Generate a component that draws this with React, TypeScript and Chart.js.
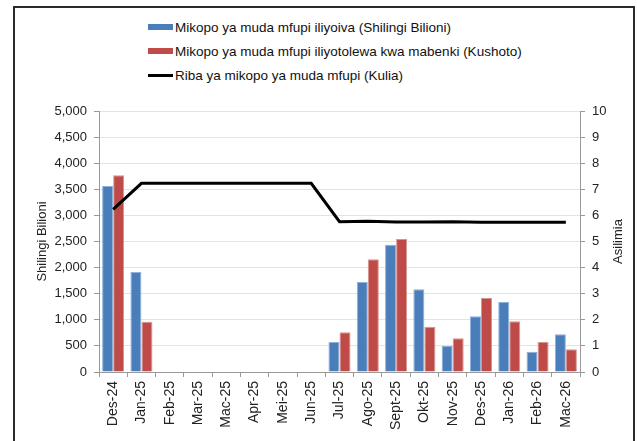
import React, { useEffect, useRef } from 'react';
import { Chart, registerables } from 'chart.js';

Chart.register(...registerables);

const categories = [
  'Des-24', 'Jan-25', 'Feb-25', 'Mar-25', 'Mac-25', 'Apr-25', 'Mei-25', 'Jun-25',
  'Jul-25', 'Ago-25', 'Sept-25', 'Okt-25', 'Nov-25', 'Des-25', 'Jan-26', 'Feb-26', 'Mac-26',
];

// Mikopo ya muda mfupi iliyoiva (Shilingi Bilioni)
const maturedLoans = [3563, 1916, null, null, null, null, null, null, 575, 1724, 2439, 1584, 504, 1067, 1341, 389, 722];
// Mikopo ya muda mfupi iliyotolewa kwa mabenki (Kushoto)
const issuedLoans = [3768, 964, null, null, null, null, null, null, 760, 2159, 2548, 868, 646, 1418, 971, 575, 435];
// Riba ya mikopo ya muda mfupi (Kulia)
const interestRate = [6.23, 7.23, 7.23, 7.23, 7.23, 7.23, 7.23, 7.23, 5.76, 5.78, 5.75, 5.75, 5.76, 5.74, 5.74, 5.74, 5.74];

const legendLabels = [
  'Mikopo ya muda mfupi iliyoiva (Shilingi Bilioni)',
  'Mikopo ya muda mfupi iliyotolewa kwa mabenki (Kushoto)',
  'Riba ya mikopo ya muda mfupi (Kulia)',
];
const leftTitle = 'Shilingi Bilioni';
const rightTitle = 'Asilimia';

const BLUE = '#4a7ebb';
const RED = '#be4b48';
const FONT = "'Liberation Sans', Arial, sans-serif";

const rightTitlePlugin = {
  id: 'rightTitle',
  afterDraw(chart: any) {
    const { ctx, chartArea } = chart;
    const s = chart.scales.y1;
    ctx.save();
    ctx.translate(s.right - 12, (chartArea.top + chartArea.bottom) / 2);
    ctx.rotate(-Math.PI / 2);
    ctx.font = `13px ${FONT}`;
    ctx.fillStyle = '#222';
    ctx.textAlign = 'center';
    ctx.textBaseline = 'middle';
    ctx.fillText(rightTitle, 0, 0);
    ctx.restore();
  },
};

export default function App() {
  const ref = useRef<HTMLCanvasElement | null>(null);

  useEffect(() => {
    if (!ref.current) return;
    const chart = new Chart(ref.current, {
      type: 'bar',
      data: {
        labels: categories,
        datasets: [
          {
            type: 'line',
            label: legendLabels[2],
            data: interestRate,
            yAxisID: 'y1',
            borderColor: '#000',
            borderWidth: 3,
            pointRadius: 0,
            tension: 0,
            order: 0,
          } as any,
          {
            label: legendLabels[0],
            data: maturedLoans,
            backgroundColor: BLUE,
            borderColor: '#8fb0d8',
            borderWidth: 1,
            yAxisID: 'y',
            order: 1,
            categoryPercentage: 0.78,
            barPercentage: 1,
          },
          {
            label: legendLabels[1],
            data: issuedLoans,
            backgroundColor: RED,
            borderColor: '#d99491',
            borderWidth: 1,
            yAxisID: 'y',
            order: 1,
            categoryPercentage: 0.78,
            barPercentage: 1,
          },
        ],
      },
      options: {
        responsive: false,
        animation: false,
        layout: { padding: { top: 111, left: 31, right: 7, bottom: 0 } },
        plugins: { legend: { display: false }, tooltip: { enabled: false } },
        scales: {
          x: {
            offset: true,
            grid: { offset: true, drawOnChartArea: false, drawTicks: true, tickLength: 5, tickColor: '#999' },
            border: { color: '#999' },
            ticks: {
              autoSkip: false,
              minRotation: 90,
              maxRotation: 90,
              padding: 4,
              color: '#222',
              font: { family: FONT, size: 14 },
            },
            afterFit: (s: any) => { s.height = 69; },
          },
          y: {
            position: 'left',
            min: 0,
            max: 5000,
            ticks: {
              stepSize: 500,
              padding: 7,
              color: '#222',
              font: { family: FONT, size: 13 },
              callback: (v: any) => Number(v).toLocaleString('en-US'),
            },
            grid: { color: '#e3e3e3', tickColor: '#999', tickLength: 5 },
            border: { color: '#999' },
            title: { display: true, text: leftTitle, color: '#222', font: { family: FONT, size: 13 } },
            afterFit: (s: any) => { s.width = 68; },
          },
          y1: {
            position: 'right',
            min: 0,
            max: 10,
            ticks: {
              stepSize: 1,
              padding: 7,
              color: '#222',
              font: { family: FONT, size: 13 },
            },
            grid: { drawOnChartArea: false, tickColor: '#999', tickLength: 5 },
            border: { color: '#999' },
            afterFit: (s: any) => { s.width = 50; },
          },
        },
      },
      plugins: [rightTitlePlugin],
    });
    return () => chart.destroy();
  }, []);

  const legendColors = [BLUE, RED, '#000'];
  return (
    <div style={{ position: 'absolute', left: 0, top: 0, width: 637, height: 441, overflow: 'hidden', background: '#fff' }}>
      <div
        style={{
          position: 'absolute', left: 13, top: 6, width: 622, height: 470,
          border: '2px solid #2a2a2a', boxSizing: 'border-box',
        }}
      />
      {legendLabels.map((t, i) => (
        <div
          key={t}
          style={{
            position: 'absolute', left: 148, top: 27 + i * 24 - 9, height: 18,
            display: 'flex', alignItems: 'center', fontFamily: FONT, fontSize: 13.5, color: '#111',
            whiteSpace: 'nowrap',
          }}
        >
          <span style={{ display: 'inline-block', width: 25, height: i === 2 ? 3 : 6, background: legendColors[i], marginRight: 2 }} />
          <span>{t}</span>
        </div>
      ))}
      <canvas ref={ref} width={637} height={441} style={{ position: 'absolute', left: 0, top: 0, width: 637, height: 441 }} />
    </div>
  );
}
